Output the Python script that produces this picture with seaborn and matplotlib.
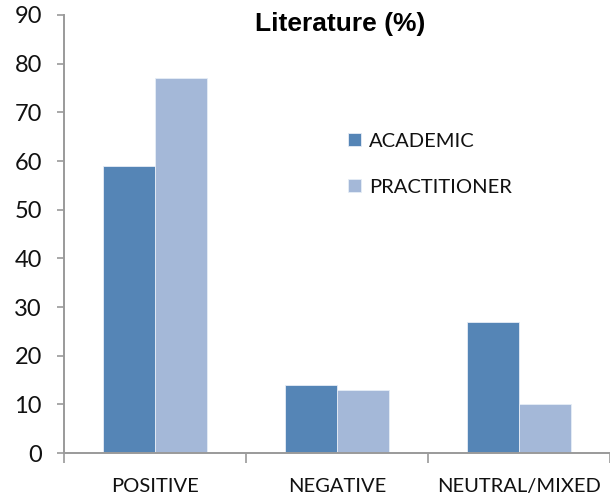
import matplotlib
matplotlib.use("Agg")
import matplotlib.pyplot as plt
import seaborn as sns
import pandas as pd
from matplotlib.ticker import FixedLocator

categories = ["POSITIVE", "NEGATIVE", "NEUTRAL/MIXED"]
academic = [59, 14, 27]
practitioner = [77, 13, 10]
series_names = ["ACADEMIC", "PRACTITIONER"]
y_ticks = [0, 10, 20, 30, 40, 50, 60, 70, 80, 90]

df = pd.DataFrame({
    "category": categories * 2,
    "value": academic + practitioner,
    "series": [series_names[0]] * 3 + [series_names[1]] * 3,
})

sns.set_theme(style="white")
plt.rcParams["font.family"] = ["Lato", "DejaVu Sans"]

fig = plt.figure(figsize=(6.1, 4.96), dpi=100)
ax = fig.add_axes([64 / 610, 43 / 496, 546 / 610, 438 / 496])

palette = {"ACADEMIC": "#5585b6", "PRACTITIONER": "#a4b8d8"}
sns.barplot(data=df, x="category", y="value", hue="series", order=categories,
            hue_order=series_names, palette=palette, width=0.57, gap=0,
            saturation=1, edgecolor="#e6edf6", linewidth=0.6, ax=ax, legend=True)

ax.set_ylim(0, 90)
ax.set_xlim(-0.5, 2.5)
ax.set_yticks(y_ticks)
ax.set_xlabel("")
ax.set_ylabel("")

spine_col = "#9a9a9a"
for side in ["top", "right"]:
    ax.spines[side].set_visible(False)
for side in ["left", "bottom"]:
    ax.spines[side].set_color(spine_col)
    ax.spines[side].set_linewidth(1.4)

ax.tick_params(axis="y", which="major", direction="out", length=5, width=1.2,
               color=spine_col, labelsize=17, labelcolor="#111111", pad=11, left=True)
ax.tick_params(axis="x", which="major", length=0, labelsize=14.5,
               labelcolor="#111111", pad=18)
ax.xaxis.set_minor_locator(FixedLocator([-0.5, 0.5, 1.5, 2.5]))
ax.tick_params(axis="x", which="minor", direction="out", length=7, width=1.2,
               color=spine_col, bottom=True)

ax.text(0.505, 1.007, "Literature (%)", transform=ax.transAxes, ha="center",
        va="top", fontsize=19, fontweight="bold",
        family=["Liberation Sans", "DejaVu Sans"], color="#000000")

leg = ax.legend(loc="upper left", bbox_to_anchor=(0.505, 0.75), frameon=False,
                fontsize=14.5, handlelength=0.65, handleheight=0.65,
                handletextpad=0.4, labelspacing=1.45, borderaxespad=0)
for t in leg.get_texts():
    t.set_color("#111111")

fig.savefig("out.png", dpi=100)
